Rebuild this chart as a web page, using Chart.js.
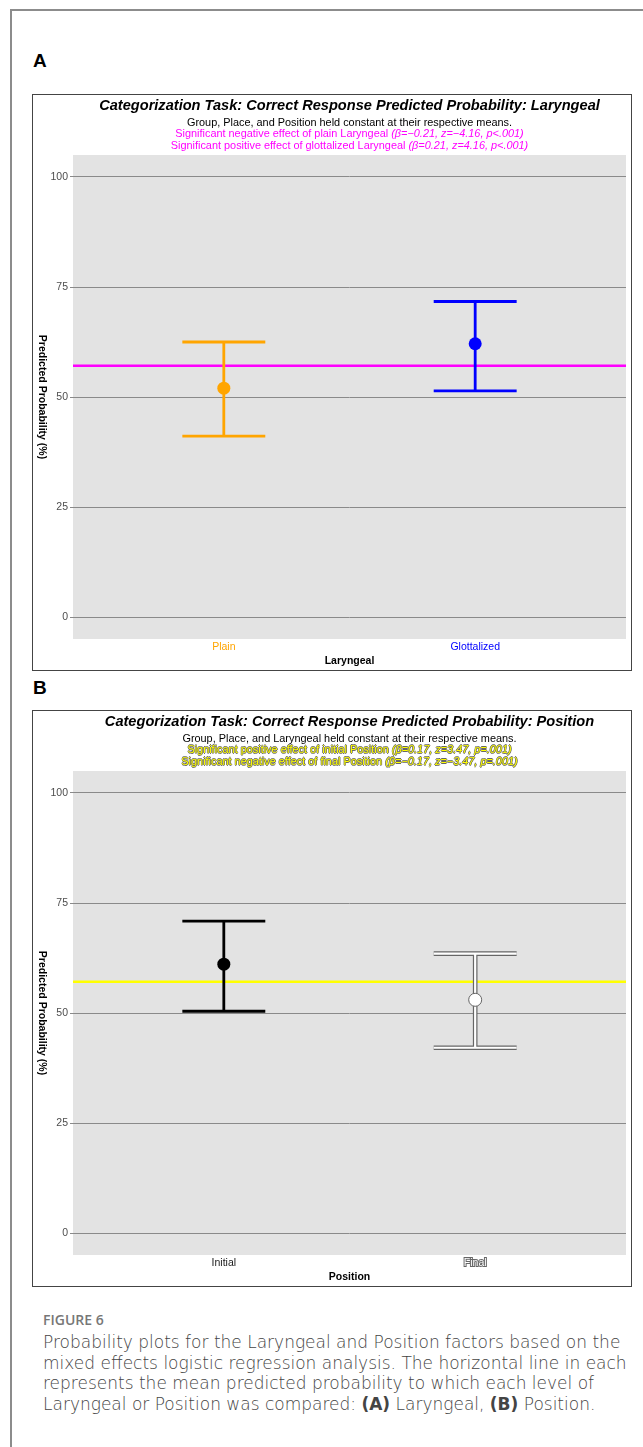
<!DOCTYPE html>
<html>
<head>
<meta charset="utf-8">
<script src="https://cdn.jsdelivr.net/npm/chart.js@4/dist/chart.umd.min.js"></script>
<style>
  body { margin:0; width:643px; height:1447px; background:#fff; position:relative; overflow:hidden;
         font-family:"Liberation Sans", Arial, sans-serif; }
  .frame { position:absolute; left:10px; top:9px; width:700px; height:1500px; border:2px solid #8c8c8c; }
  .lab { position:absolute; left:33px; font-weight:bold; font-size:19px; line-height:22px; color:#000; }
  .panel { position:absolute; left:32px; width:600px; height:577px; border:1px solid #444; box-sizing:border-box; background:#fff; }
  .panel canvas { position:absolute; left:0; top:0; }
  .hd { position:absolute; left:40px; width:553px; text-align:center; white-space:nowrap; }
  .t1 { font-weight:bold; font-style:italic; font-size:14.6px; line-height:16px; color:#000; }
  .t2 { font-size:10.9px; line-height:12px; color:#000; }
  .mag { color:#ff00ff; }
  .yel { color:#ffff00; text-shadow:-0.7px 0 #666, 0.7px 0 #666, 0 -0.7px #666, 0 0.7px #666; }
  .figlab { position:absolute; left:43px; top:1312px; font-family:"Open Sans", sans-serif; font-weight:600;
            font-size:14px; line-height:16px; color:#777; }
  .cap { position:absolute; left:43px; top:1332px; font-family:"DejaVu Sans", sans-serif; font-weight:300;
         font-size:17px; line-height:20.7px; color:#444; white-space:nowrap; }
  .cap b { font-weight:bold; color:#444; }
</style>
</head>
<body>
<div class="frame"></div>

<div class="lab" style="top:50px">A</div>
<div class="panel" style="top:94px">
  <canvas id="chartA" width="598" height="575"></canvas>
  <div class="hd t1" style="top:2px">Categorization Task: Correct Response Predicted Probability: Laryngeal</div>
  <div class="hd t2" style="top:21px">Group, Place, and Position held constant at their respective means.</div>
  <div class="hd t2 mag" style="top:32px">Significant negative effect of plain Laryngeal <i>(β=−0.21, z=−4.16, p&lt;.001)</i></div>
  <div class="hd t2 mag" style="top:44px">Significant positive effect of glottalized Laryngeal <i>(β=0.21, z=4.16, p&lt;.001)</i></div>
</div>

<div class="lab" style="top:677px">B</div>
<div class="panel" style="top:710px">
  <canvas id="chartB" width="598" height="575"></canvas>
  <div class="hd t1" style="top:2px">Categorization Task: Correct Response Predicted Probability: Position</div>
  <div class="hd t2" style="top:21px">Group, Place, and Laryngeal held constant at their respective means.</div>
  <div class="hd t2 yel" style="top:32px">Significant positive effect of initial Position <i>(β=0.17, z=3.47, p=.001)</i></div>
  <div class="hd t2 yel" style="top:44px">Significant negative effect of final Position <i>(β=−0.17, z=−3.47, p=.001)</i></div>
</div>

<div class="figlab">FIGURE 6</div>
<div class="cap">Probability plots for the Laryngeal and Position factors based on the<br>mixed effects logistic regression analysis. The horizontal line in each<br>represents the mean predicted probability to which each level of<br>Laryngeal or Position was compared: <b>(A)</b> Laryngeal, <b>(B)</b> Position.</div>

<script>
// data (predicted probability, %)
const Y_TICKS = [0, 25, 50, 75, 100];

const LAR_CATS = ['Plain', 'Glottalized'];
const LAR_MEAN = [52.0, 62.1];
const LAR_LOW  = [41.1, 51.4];
const LAR_HIGH = [62.5, 71.7];
const LAR_REF  = 57.1;

const POS_CATS = ['Initial', 'Final'];
const POS_MEAN = [61.1, 53.0];
const POS_LOW  = [50.4, 42.1];
const POS_HIGH = [70.9, 63.5];
const POS_REF  = 57.1;

// styles
const LAR_STYLE = [
  { color: '#FFA500', tick: '#FFA500' },
  { color: '#0000FF', tick: '#0000FF' }
];
const POS_STYLE = [
  { color: '#000000', tick: '#1a1a1a' },
  { color: '#ffffff', tick: '#ffffff', outline: '#666666' }
];

const FONT = "'Liberation Sans', Arial, sans-serif";
const X_MIN = 0.4, X_MAX = 2.6;
const CAP_HALF = 0.165;

const panelBg = {
  id: 'panelBg',
  beforeDraw(chart) {
    const a = chart.chartArea, ctx = chart.ctx;
    ctx.save();
    ctx.fillStyle = '#e3e3e3';
    ctx.fillRect(a.left, a.top, a.right - a.left, a.bottom - a.top);
    ctx.restore();
  }
};

// y title reads top to bottom in the original
const yTitle = {
  id: 'yTitle',
  afterDraw(chart) {
    const a = chart.chartArea, ctx = chart.ctx;
    ctx.save();
    ctx.translate(9, (a.top + a.bottom) / 2);
    ctx.rotate(Math.PI / 2);
    ctx.font = 'bold 10.5px ' + FONT;
    ctx.fillStyle = '#000';
    ctx.textAlign = 'center';
    ctx.textBaseline = 'middle';
    ctx.fillText('Predicted Probability (%)', 0, 0);
    ctx.restore();
  }
};

function barPoints(i, lo, hi) {
  const x = i + 1;
  return [
    { x: x - CAP_HALF, y: lo }, { x: x + CAP_HALF, y: lo }, { x: x, y: null },
    { x: x, y: lo }, { x: x, y: hi }, { x: x, y: null },
    { x: x - CAP_HALF, y: hi }, { x: x + CAP_HALF, y: hi }
  ];
}

function makePanel(id, cats, mean, low, high, ref, refColor, styles, xTitle) {
  const datasets = [];
  datasets.push({
    type: 'line',
    data: [{ x: X_MIN, y: ref }, { x: X_MAX, y: ref }],
    borderColor: refColor, borderWidth: 2.6, pointRadius: 0, order: 10
  });
  cats.forEach((c, i) => {
    const st = styles[i];
    if (st.outline) {
      datasets.push({
        type: 'line', data: barPoints(i, low[i], high[i]),
        borderColor: st.outline, borderWidth: 4.6, pointRadius: 0, order: 6
      });
      datasets.push({
        type: 'line', data: barPoints(i, low[i], high[i]),
        borderColor: st.color, borderWidth: 2.2, pointRadius: 0, order: 5
      });
    } else {
      datasets.push({
        type: 'line', data: barPoints(i, low[i], high[i]),
        borderColor: st.color, borderWidth: 2.8, pointRadius: 0, order: 5
      });
    }
    datasets.push({
      type: 'scatter', data: [{ x: i + 1, y: mean[i] }],
      pointRadius: 6.5, pointBackgroundColor: st.color,
      pointBorderColor: st.outline || st.color, pointBorderWidth: st.outline ? 1 : 0,
      order: 1
    });
  });

  new Chart(document.getElementById(id), {
    type: 'line',
    data: { datasets },
    options: {
      responsive: false,
      animation: false,
      spanGaps: false,
      layout: { padding: { top: 60, right: 5, left: 0, bottom: 0 }, autoPadding: false },
      plugins: { legend: { display: false }, tooltip: { enabled: false } },
      scales: {
        x: {
          type: 'linear', min: X_MIN, max: X_MAX,
          afterBuildTicks: s => { s.ticks = cats.map((c, i) => ({ value: i + 1 })); },
          afterFit: s => { s.height = 31; },
          grid: { display: false, drawTicks: false },
          border: { display: false },
          ticks: {
            autoSkip: false, maxRotation: 0, padding: 2,
            font: { family: FONT, size: 10.5 },
            callback: v => cats[v - 1],
            color: ctx => styles[ctx.index] ? styles[ctx.index].tick : '#000',
            textStrokeColor: ctx => (styles[ctx.index] && styles[ctx.index].outline) || '',
            textStrokeWidth: ctx => (styles[ctx.index] && styles[ctx.index].outline) ? 2 : 0
          },
          title: {
            display: true, text: xTitle, color: '#000',
            font: { family: FONT, size: 10.5, weight: 'bold' },
            padding: { top: 0, bottom: 3 }
          }
        },
        y: {
          min: -5, max: 105,
          afterBuildTicks: s => { s.ticks = Y_TICKS.map(v => ({ value: v })); },
          afterFit: s => { s.width = 40; },
          grid: { color: '#8a8a8a', lineWidth: 1, tickLength: 3, drawTicks: true },
          border: { display: false },
          ticks: { padding: 2, color: '#4d4d4d', font: { family: FONT, size: 10.5 } }
        }
      }
    },
    plugins: [panelBg, yTitle]
  });
}

makePanel('chartA', LAR_CATS, LAR_MEAN, LAR_LOW, LAR_HIGH, LAR_REF, '#ff00ff', LAR_STYLE, 'Laryngeal');
makePanel('chartB', POS_CATS, POS_MEAN, POS_LOW, POS_HIGH, POS_REF, '#ffff00', POS_STYLE, 'Position');
</script>
</body>
</html>
